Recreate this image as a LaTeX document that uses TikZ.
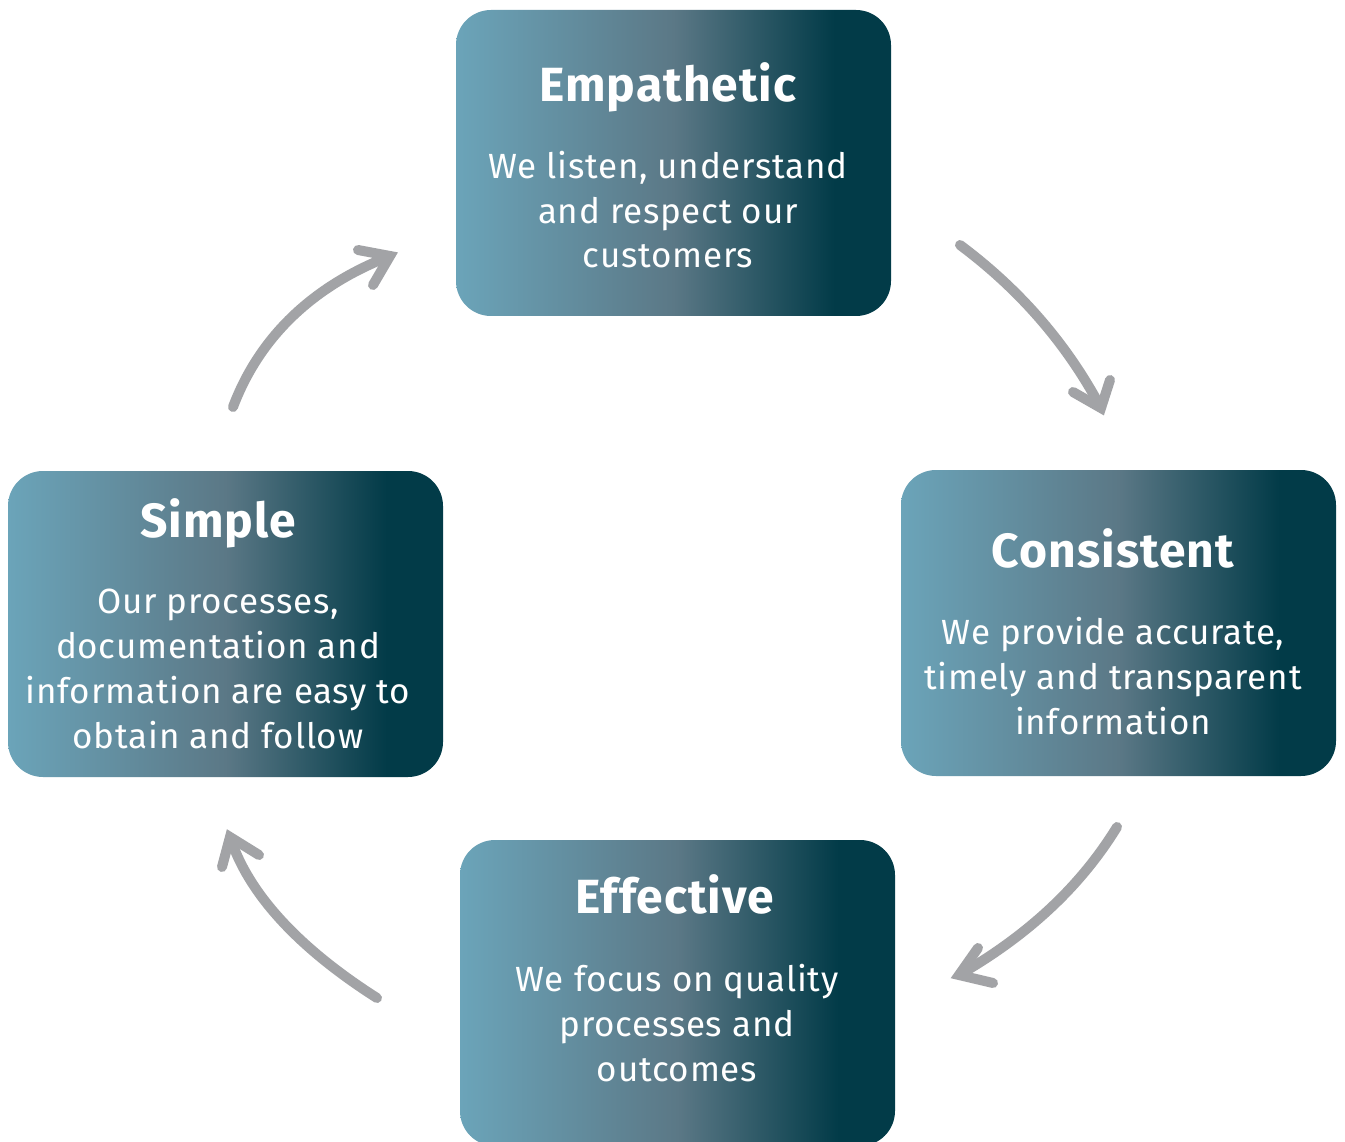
\documentclass[tikz,border=0pt]{standalone}
\usepackage{fontspec}
\setmainfont{Fira Sans}
\newfontfamily\cardtitlefont{Fira Sans}[LetterSpace=2.2]
\newfontfamily\cardtextfont{Fira Sans}[LetterSpace=2.2]

\definecolor{gradlight}{HTML}{6BA4B9}
\definecolor{gradmid}{HTML}{5B7886}
\definecolor{graddark}{HTML}{023B48}
\definecolor{arrowgray}{HTML}{A2A3A6}

% left-to-right teal shading; the path spans 25bp..75bp of the shading
\pgfdeclarehorizontalshading{valuebox}{100bp}{%
  color(0bp)=(gradlight); color(25bp)=(gradlight);
  color(50bp)=(gradmid); color(68.5bp)=(graddark);
  color(100bp)=(graddark)}

\tikzset{
  valuecard/.style={rectangle, rounded corners=35, shading=valuebox,
    minimum width=435, minimum height=306, inner sep=0, draw=none},
  cardtitle/.style={text=white, anchor=base,
    font=\cardtitlefont\fontsize{48}{56}\selectfont\bfseries},
  cardline/.style={text=white, anchor=base,
    font=\cardtextfont\fontsize{35}{45}\selectfont},
  flow/.style={draw=arrowgray, line width=10, line cap=round, shorten >=6},
  flowhead/.style={draw=arrowgray, line width=10, line cap=round, line join=miter}
}

\begin{document}
\begin{tikzpicture}[x=1pt, y=-1pt]
\useasboundingbox (0,0) rectangle (1345,1142);
\fill[white] (0,0) rectangle (1345,1142);

% cards
\node[valuecard] (emp) at (673.5,163) {};
\node[valuecard] (con) at (1118.5,623) {};
\node[valuecard] (sim) at (225.5,624) {};
\node[valuecard] (eff) at (677.5,993) {};

% Empathetic
\node[cardtitle] (empT) at (668,102) {Empathetic};
\node[cardline] (empA) at (668,179) {We listen, understand};
\node[cardline] (empB) at (668,224) {and respect our};
\node[cardline] (empC) at (668,268) {customers};

% Consistent
\node[cardtitle] (conT) at (1113,567) {Consistent};
\node[cardline] (conA) at (1113,644) {We provide accurate,};
\node[cardline] (conB) at (1113,689) {timely and transparent};
\node[cardline] (conC) at (1113,734) {information};

% Simple
\node[cardtitle] (simT) at (218,537) {Simple};
\node[cardline] (simA) at (218,613) {Our processes,};
\node[cardline] (simB) at (218,658) {documentation and};
\node[cardline] (simC) at (218,703) {information are easy to};
\node[cardline] (simD) at (218,748) {obtain and follow};

% Effective
\node[cardtitle] (effT) at (675,913) {Effective};
\node[cardline] (effA) at (677,991) {We focus on quality};
\node[cardline] (effB) at (677,1036) {processes and};
\node[cardline] (effC) at (677,1081) {outcomes};

% cycle arrows: start, two bend controls, tip and the two barb ends
\coordinate (a1s) at (233,407);  \coordinate (a1c) at (259,338);  \coordinate (a1d) at (311,288);
\coordinate (a1t) at (390,256);  \coordinate (a1l) at (358,250);  \coordinate (a1r) at (373,285);
\coordinate (a2s) at (960,245);  \coordinate (a2c) at (1019,289); \coordinate (a2d) at (1065,342);
\coordinate (a2t) at (1101,408); \coordinate (a2l) at (1073,392); \coordinate (a2r) at (1110,380);
\coordinate (a3s) at (1117,827); \coordinate (a3c) at (1082,884); \coordinate (a3d) at (1032,932);
\coordinate (a3t) at (959,975);  \coordinate (a3l) at (978,948);  \coordinate (a3r) at (993,983);
\coordinate (a4s) at (377,998);  \coordinate (a4c) at (300,949);  \coordinate (a4d) at (251,896);
\coordinate (a4t) at (230,837);  \coordinate (a4l) at (222,867);  \coordinate (a4r) at (259,855);

\foreach \a in {a1,a2,a3,a4}{
  \draw[flow] (\a s) .. controls (\a c) and (\a d) .. (\a t);
  \draw[flowhead] (\a l) -- (\a t) -- (\a r);
}
\end{tikzpicture}
\end{document}
